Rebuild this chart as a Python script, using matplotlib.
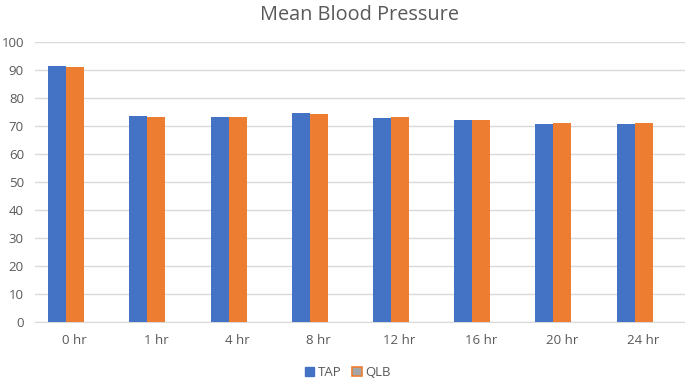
import matplotlib.pyplot as plt
import matplotlib.transforms as mtransforms
from matplotlib.patches import Patch
import numpy as np

plt.rcParams['font.family'] = ['Open Sans', 'DejaVu Sans']

categories = ['0 hr', '1 hr', '4 hr', '8 hr', '12 hr', '16 hr', '20 hr', '24 hr']
tap = [91.4, 73.6, 73.2, 74.8, 73.0, 72.0, 70.6, 70.6]
qlb = [91.1, 73.2, 73.2, 74.2, 73.2, 72.1, 71.2, 71.2]

text_color = '#595959'
blue = '#4472C4'
orange = '#ED7D31'

fig = plt.figure(figsize=(6.85, 3.8), dpi=100)
ax = fig.add_axes([35 / 685, 0.153, 650 / 685, 0.736])

x = np.arange(len(categories))
w = 0.222
ax.bar(x - w / 2, tap, w, color=blue, label='TAP', zorder=3)
ax.bar(x + w / 2, qlb, w, color=orange, label='QLB', zorder=3)

ax.set_xlim(-0.385, 7.62)
ax.set_ylim(0, 100)
ax.set_yticks(range(0, 101, 10))
ax.set_xticks(x)
ax.set_xticklabels(categories)
ax.grid(axis='y', color='#D9D9D9', linewidth=1, zorder=0)
for s in ['top', 'right', 'left']:
    ax.spines[s].set_visible(False)
ax.spines['bottom'].set_color('#D9D9D9')
ax.tick_params(axis='both', length=0, labelsize=9.5, colors=text_color)
ax.tick_params(axis='x', pad=9)
ax.tick_params(axis='y', pad=8)

# category labels sit a little right of the bar pairs, as in the original
shift = mtransforms.ScaledTranslation(8.5 / 100, 0, fig.dpi_scale_trans)
for lbl in ax.get_xticklabels():
    lbl.set_transform(lbl.get_transform() + shift)

ax.set_title('Mean Blood Pressure', fontsize=14.3, color=text_color, pad=16)

handles = [Patch(facecolor=blue, edgecolor=blue, label='TAP'),
           Patch(facecolor='#A5A5A5', edgecolor=orange, linewidth=1.2, label='QLB')]
fig.legend(handles=handles, loc='center', bbox_to_anchor=(0.508, 0.02), ncol=2,
           frameon=False, fontsize=9.5, labelcolor=text_color, handlelength=0.7,
           handleheight=0.7, handletextpad=0.3, columnspacing=0.8)

fig.savefig('out.png', dpi=100)
